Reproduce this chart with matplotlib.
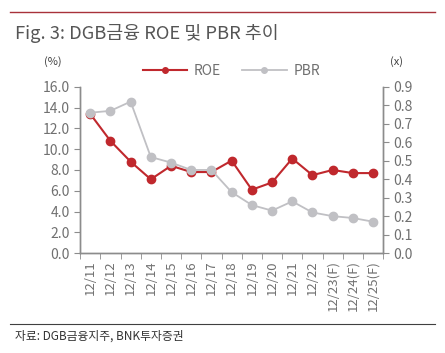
import numpy as np
import matplotlib.pyplot as plt
from matplotlib.lines import Line2D

plt.rcParams['font.family'] = ['Noto Sans CJK KR', 'DejaVu Sans']

# --- Data ---
years = ['12/11', '12/12', '12/13', '12/14', '12/15', '12/16', '12/17', '12/18',
         '12/19', '12/20', '12/21', '12/22', '12/23(F)', '12/24(F)', '12/25(F)']
roe = [13.4, 10.8, 8.8, 7.1, 8.4, 7.8, 7.8, 8.9, 6.1, 6.8, 9.1, 7.5, 8.0, 7.7, 7.7]
pbr = [0.76, 0.77, 0.82, 0.52, 0.49, 0.45, 0.45, 0.33, 0.26, 0.23, 0.28, 0.22, 0.20, 0.19, 0.17]

red = '#C0282D'
grey = '#C0C0C4'
axis_grey = '#8C8C8C'
text_grey = '#707070'

fig = plt.figure(figsize=(4.45, 3.53), dpi=100)
ax = fig.add_axes([0.180, 0.283, 0.681, 0.471])
ax2 = ax.twinx()

x = np.arange(len(years))

# ROE on left axis, PBR on right axis (PBR drawn on top)
ax.plot(x, roe, color=red, marker='o', markersize=6, linewidth=1.5)
ax2.plot(x, pbr, color=grey, marker='o', markersize=6, linewidth=1.3)

ax.set_xlim(-0.5, len(years) - 0.5)
ax.set_ylim(0, 16)
ax2.set_ylim(0, 0.9)
ax.set_yticks(np.arange(0, 16.1, 2))
ax.set_yticklabels([f'{v:.1f}' for v in np.arange(0, 16.1, 2)])
ax2.set_yticks(np.arange(0, 0.91, 0.1))
ax2.set_yticklabels([f'{v:.1f}' for v in np.arange(0, 0.91, 0.1)])

# category labels at centres, tick marks at edges
ax.set_xticks(x)
ax.set_xticklabels(years, rotation=90)
ax.tick_params(axis='x', which='major', length=0, pad=5)
ax.set_xticks(np.arange(-0.5, len(years), 1), minor=True)
ax.tick_params(axis='x', which='minor', length=4, color=axis_grey, direction='out')

for a in (ax, ax2):
    a.spines['top'].set_visible(False)
    for s in ('left', 'right', 'bottom'):
        a.spines[s].set_color(axis_grey)
        a.spines[s].set_linewidth(1.0)
    a.tick_params(axis='y', colors=text_grey, labelsize=10, length=4, color=axis_grey)
    a.tick_params(axis='x', colors=text_grey, labelsize=9.5)
ax.tick_params(axis='x', which='minor', color=axis_grey)

# unit labels
fig.text(0.118, 0.817, '(%)', fontsize=8, color='#404040', ha='center')
fig.text(0.890, 0.817, '(x)', fontsize=8, color='#404040', ha='center')

# legend
handles = [Line2D([0], [0], color=red, marker='o', markersize=4, linewidth=1.5),
           Line2D([0], [0], color=grey, marker='o', markersize=4, linewidth=1.3)]
fig.legend(handles, ['ROE', 'PBR'], loc='center', bbox_to_anchor=(0.52, 0.80),
           ncol=2, frameon=False, fontsize=10, handlelength=3.2, columnspacing=1.5,
           labelcolor=text_grey, handletextpad=0.5)

# title, rules and source
fig.add_artist(Line2D([0.022, 0.978], [0.966, 0.966], color='#A8323A', linewidth=1.0))
fig.text(0.034, 0.905, 'Fig. 3: DGB금융 ROE 및 PBR 추이', fontsize=13.2, color='#555555',
         ha='left', va='center')
fig.add_artist(Line2D([0.022, 0.978], [0.082, 0.082], color='#404040', linewidth=0.8))
fig.text(0.034, 0.048, '자료: DGB금융지주, BNK투자증권', fontsize=8.5, color='#333333',
         ha='left', va='center', style='italic')

fig.savefig('out.png', dpi=100)
